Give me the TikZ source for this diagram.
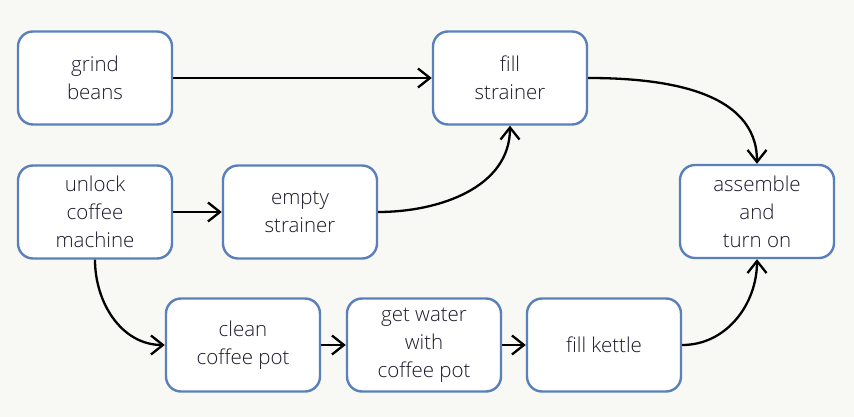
\documentclass[tikz,border=0pt]{standalone}
\usepackage{fontspec}
\setmainfont{Open Sans Light}[BoldFont=Open Sans]
\usetikzlibrary{arrows.meta}
\definecolor{bg}{HTML}{F8F9F4}
\definecolor{bord}{HTML}{5A80BC}
\definecolor{txt}{HTML}{1A1A2A}
\begin{document}
\begin{tikzpicture}[x=1pt,y=1pt,
  stepbox/.style={draw=bord, line width=2.4pt, fill=white, rounded corners=15pt,
    minimum width=154pt, minimum height=93pt, align=center, inner sep=0pt,
    font=\fontsize{20.5}{28}\selectfont, text=txt},
  conn/.style={-{Straight Barb[length=12pt,width=19pt,line width=2.3pt]}, line width=2.3pt, black}]
\fill[bg] (0,0) rectangle (854,417);
\useasboundingbox (0,0) rectangle (854,417);
\node[stepbox] (grind) at (95,339) {grind\\beans};
\node[stepbox] (fill) at (510,339) {fill\\strainer};
\node[stepbox] (unlock) at (95,205) {unlock\\coffee\\machine};
\node[stepbox] (empty) at (300,205) {empty\\strainer};
\node[stepbox] (assemble) at (757,205.5) {assemble\\and\\turn on};
\node[stepbox] (clean) at (243,72) {clean\\coffee pot};
\node[stepbox] (water) at (424,72) {get water\\with\\coffee pot};
\node[stepbox] (kettle) at (604,72) {fill kettle};
\draw[conn] (grind) -- (fill);
\draw[conn] (unlock) -- (empty);
\draw[conn] (clean) -- (water);
\draw[conn] (water) -- (kettle);
\draw[conn] (fill.east) to[out=0,in=90] (assemble.north);
\draw[conn] (empty.east) to[out=0,in=-90] (fill.south);
\draw[conn] (unlock.south) to[out=-90,in=180] (clean.west);
\draw[conn] (kettle.east) to[out=0,in=-90] (assemble.south);
\end{tikzpicture}
\end{document}
